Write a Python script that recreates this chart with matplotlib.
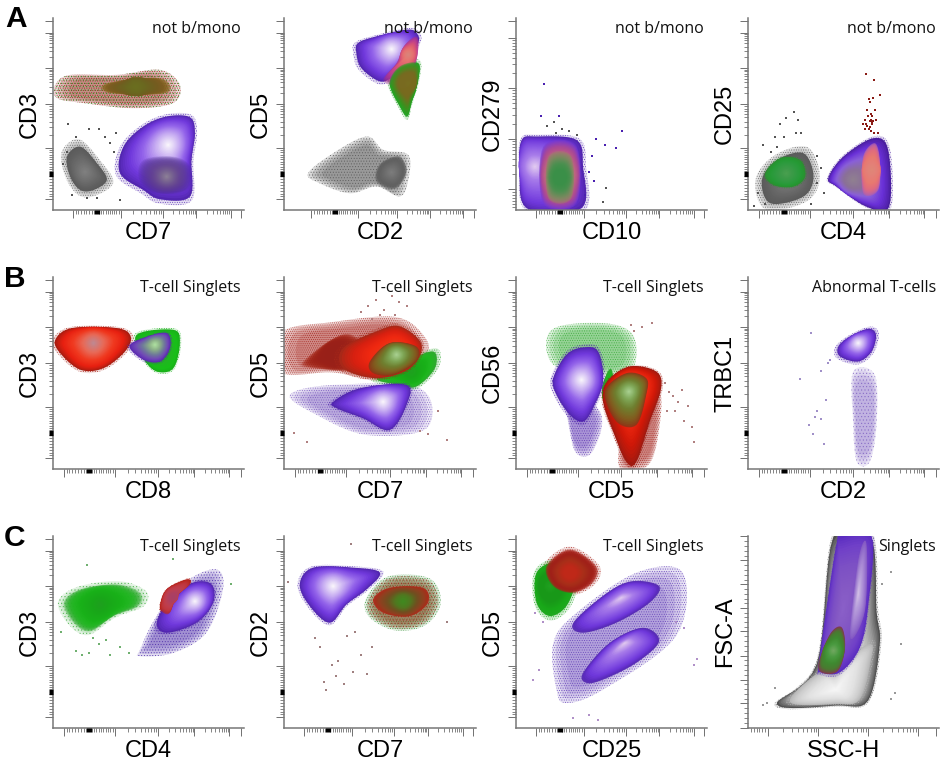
import numpy as np
import matplotlib
matplotlib.use('Agg')
import matplotlib.pyplot as plt
from matplotlib.colors import to_rgb
from matplotlib.patches import Polygon

# Everything below is in axis units, 0-100 along each plot axis
# Tick places: negative, zero, then the decades, then the end of the scale
ticks_a = [10.4, 23.0, 35.5, 57.5, 75.0, 93.0, 98.6]
ticks_a2 = [14.3, 26.4, 38.6, 58.6, 76.0, 93.4, 98.8]
ticks_b = [5.6, 19.0, 32.4, 55.0, 74.0, 92.4, 98.6]
ticks_cd279 = [10.8, 36.9, 63.5, 89.6, 98.6]
ticks_ssc = [10.4, 36.9, 63.0, 89.0, 98.3]
ticks_fsc = [0, 12.9, 25.2, 37.7, 50.3, 62.4, 74.8, 87.3, 99.8]

# Colour ramps, outer edge of a population to its centre
purple = ['#5226b0', '#7038dc', '#9464ea', '#c8aef2', '#f8f4fb']
purple_dim = ['#5226b0', '#7038dc', '#8a58e4', '#a87cea', '#e0c8f0']
purple_grey = ['#4a2a90', '#5a3a90', '#6a4a90', '#807090', '#a09aa0']
purple_c4 = ['#5a2cc0', '#7040c8', '#7c50c4', '#8458c4', '#8a60c8']
lavender = ['#8458c4', '#9470cc', '#a888d4', '#b8a0dc', '#d4c0e6']
red = ['#a81c10', '#e82010', '#f03a20', '#e86a58', '#c08890']
pink = ['#a83088', '#c04090', '#e05a70', '#e87870', '#d88a80']
green = ['#30a830', '#20b820', '#18b018', '#18a818', '#20a020']
green_lo = ['#2a9030', '#259a35', '#2f9a40', '#3c9a48', '#4aa050']
olive = ['#8a3818', '#806020', '#6f8030', '#80a858', '#a8d090']
mixed = ['#b02818', '#904020', '#705020', '#4f7a20', '#408a20']
grey = ['#5a5a5a', '#606060', '#6a6a6a', '#757575', '#808080']
pale = ['#505050', '#9a9a9a', '#cfcfcf', '#e6e6e6', '#f4f4f4']
inner_b1 = ['#5a28b0', '#7048b8', '#6f7a9a', '#8cb088', '#aee0a0']

# Plot A1, CD7 against CD3
a1_band = [(1.2, 65.2), (9, 70.4), (33.4, 70.4), (56, 73), (66.4, 65.2), (62.9, 55.7), (42, 53), (16, 55.7), (2.1, 58.3)]
a1_band_mid = [(28, 66), (56, 68.7), (59.5, 60.9), (29.7, 60.9)]
a1_purple = [(36.9, 33), (47.3, 43.5), (59.5, 48.7), (71.7, 48.3), (74.3, 40), (72.5, 26), (71.7, 7), (56, 5.6), (47.3, 10.4), (35.1, 19.1)]
a1_shade = [(47.3, 26), (63, 27.8), (71.7, 22.6), (70, 10.4), (54.3, 8.7), (45.2, 15.7)]
a1_grey = [(7.3, 27.8), (14.3, 33), (23, 24.3), (28.2, 15.7), (21.2, 10.4), (14.3, 10.4), (9, 17.4)]
a1_far_x = [8, 7.5, 12, 19, 24, 27, 30, 33, 5, 10, 18, 23, 32, 35]
a1_far_y = [45, 30, 38, 42, 42, 38, 35, 40, 24, 8, 6, 6, 30, 5]

# Plot A2, CD2 against CD5
a2_grey = [(12.5, 19.1), (25.6, 29.6), (43, 38.3), (51.7, 31.3), (64.7, 28.7), (64.7, 15.7), (60.3, 7), (48.2, 12.2), (34.3, 8.7), (18.6, 13.9)]
a2_purple = [(38.6, 87), (48.2, 90.4), (63.8, 93.9), (69, 92.2), (69.9, 87), (63, 76.5), (56.9, 69.6), (49.9, 67), (40.3, 73.9), (37.7, 81.7)]
a2_wedge = [(63, 86), (69, 90.4), (69.9, 83.5), (65.6, 66), (58.6, 64.3), (51.7, 67.8), (58.6, 76.5)]
a2_tail = [(60.3, 74.8), (69.9, 76.5), (69.9, 67.8), (66.4, 55.7), (64.2, 48.7), (60.3, 53.9), (55, 66)]

# Plot A3, CD10 against CD279
a3_purple = [(3, 36.5), (10.8, 38.3), (31.7, 36.5), (35.1, 22.6), (34.3, 0.9), (5.6, 0.9), (2.1, 22.6)]
a3_pink = [(14.3, 33), (31.7, 33), (31.7, 3.5), (14.3, 3.5)]
a3_green = [(17, 28), (29, 28), (29, 6), (17, 6)]
a3_far_x = [14.6, 12.9, 22.6, 55.7, 42, 46.4, 52.5, 40, 38, 41, 36]
a3_far_y = [65.7, 49, 48.7, 41.4, 37, 33.9, 32.2, 28, 20, 15, 8]
a3_far_grey_x = [47.3, 45.6, 24, 20, 28, 32, 16, 21]
a3_far_grey_y = [11.7, 4.3, 42, 46, 41, 39, 44, 40]

# Plot A4, CD4 against CD25
a4_grey = [(7.3, 15.7), (15.1, 26), (29, 29.6), (34.3, 17.4), (29, 7), (11.7, 3.5)]
a4_green = [(9, 19), (16.9, 27), (27.3, 26), (29.9, 17.4), (23.8, 12.2), (13.4, 13)]
a4_purple = [(42, 16.5), (49.9, 27.8), (65.6, 37.4), (73.4, 31.3), (73.9, 1.7), (62.1, 1.7), (46.4, 12.2)]
a4_pink = [(60.3, 27.8), (66.4, 34.8), (69, 26), (68.2, 10.4), (60.3, 8.7)]
a4_tail_x = [62, 66, 63.5, 65.5, 64, 62.5, 66.5, 64.5, 63, 65, 67, 61, 60, 62, 65, 64, 63.5, 64.5, 66, 68, 69, 62.5, 61.5, 64.7, 63.8, 65.2, 64.2]
a4_tail_y = [71, 67.5, 58, 58.5, 56, 52, 52, 50, 49, 49, 47, 47, 45, 45, 45, 43, 42, 41, 40, 40, 60, 44, 42, 46, 46.5, 46.2, 47]
a4_far_x = [24, 20, 17, 26, 25, 14, 19, 28, 15, 12, 8, 36, 38, 5, 9, 3, 33, 36, 40]
a4_far_y = [51, 48, 45, 47, 40, 38, 38, 40, 33, 30, 34, 28, 22, 9, 3, 2, 3, 14, 9]

# Plot B1, CD8 against CD3
b1_red = [(1.2, 67.3), (9.9, 73.4), (33.4, 73.4), (40.7, 69), (37.7, 61.2), (26.4, 52.5), (14.3, 51.7), (3.8, 60.3)]
b1_green = [(43.8, 69.9), (63, 72.5), (66.4, 65.6), (63, 52.5), (54.3, 50.8), (47.3, 57.7)]
b1_inner = [(40, 63.8), (47.3, 68.2), (59.5, 70.8), (61.2, 63), (56, 56), (47.3, 56.9)]

# Plot B2, CD7 against CD5
b2_wide = [(0.3, 70.8), (25.6, 76), (56.9, 78.6), (70.8, 70), (72.5, 59.5), (51.6, 47.3), (25.6, 50.8), (0.3, 50.8)]
b2_red = [(30.8, 63), (48.2, 71.7), (60.3, 74.3), (71.7, 64.7), (65.6, 52.5), (48.2, 47.3), (30.8, 52.5)]
b2_green = [(48.2, 47.3), (63.8, 56), (77.7, 61.2), (78.6, 52.5), (69, 43), (60.3, 43.8)]
b2_olive = [(44.7, 56), (55, 65.6), (69, 63.8), (69, 56), (56.9, 49), (46.4, 49.9)]
b2_purple = [(25.6, 35), (39.5, 42), (63.8, 43.8), (63.8, 33.4), (55, 20.3), (41.2, 26.4), (27.3, 31.7)]
b2_fringe = [(3, 38.6), (25.6, 43.8), (70.8, 42), (74.3, 21.2), (43, 17.7), (16.9, 28.2)]
b2_far_x = [40, 44, 48, 52, 56, 60, 64, 58, 50, 46, 75, 71, 12, 5, 80, 85]
b2_far_y = [82, 85, 88, 83, 90, 87, 85, 80, 80, 78, 18, 20, 14, 19, 30, 15]

# Plot B3, CD5 against CD56
b3_green = [(18.6, 72.5), (45.6, 76), (61.2, 69.9), (61.2, 52.5), (45.6, 49), (19.5, 54.3)]
b3_purple = [(19.5, 47.3), (26.4, 59.5), (35.1, 63.3), (43, 61.2), (45.6, 45.6), (40.3, 31.7), (35.1, 24.7), (28.2, 28.2), (21.2, 38.6)]
b3_fringe = [(19, 48), (26, 30), (31, 9), (40, 9), (44, 30)]
b3_red = [(47.7, 45.6), (59.5, 53.4), (73.4, 50.8), (76, 42), (70, 24.7), (63, 3.8), (57.7, 3.8), (50.8, 19.5), (45.6, 35)]
b3_olive = [(46.4, 40.3), (57.7, 49.9), (68.2, 47.3), (68.2, 38.6), (63, 22.9), (52.5, 24.7)]
b3_red_tail = [(58, 25), (75, 40), (74, 15), (68, 1), (54, 1)]
b3_far_x = [78, 80, 82, 85, 87, 90, 83, 88, 79, 92, 62, 66, 60, 71, 93]
b3_far_y = [45, 40, 38, 35, 41, 33, 30, 25, 30, 22, 72, 74, 75, 76, 14]

# Plot B4, CD2 against TRBC1
b4_purple = [(47.3, 63.8), (53.4, 69), (63, 73), (67, 69.9), (64.7, 61.2), (57.7, 56), (48.2, 58.6)]
b4_tail = [(55, 50.6), (66.4, 49), (67.3, 22.9), (63.8, 3.8), (56.9, 3.8), (55, 24.7)]
b4_far_x = [33, 27, 36, 38, 35, 32, 34, 40, 41, 43, 42, 38]
b4_far_y = [71, 47, 30, 26, 27, 23, 18, 13, 36, 57, 55, 51]

# Plot C1, CD4 against CD3
c1_green = [(5.6, 65.2), (14.3, 72.2), (33.4, 74.8), (45.6, 70.4), (44.7, 63.5), (31.7, 58.3), (19.5, 50.4), (10.8, 54.8)]
c1_fringe = [(45.6, 40.9), (54.3, 58.3), (70, 76.5), (85.6, 82.6), (89, 72.2), (80.3, 49.6), (63, 39.1), (45.6, 37.4)]
c1_purple = [(54.3, 54.8), (61.2, 67), (73.4, 75.7), (83, 74.8), (83.8, 65.2), (75, 54.8), (59.5, 49.6)]
c1_red = [(56, 63.5), (59.5, 72.2), (70, 77.4), (71.7, 74.8), (64.7, 68.7), (61.2, 60), (57.7, 60)]
c1_far_x = [12, 15, 19, 24, 30, 35, 40, 18, 4, 21, 93, 63, 28]
c1_far_y = [40, 38, 39, 44, 38, 42, 39, 85, 50, 47, 75, 88, 46]

# Plot C2, CD7 against CD2
c2_purple = [(8.2, 74.8), (15.1, 83.5), (36, 83.5), (50, 80.9), (43, 72.2), (32.5, 64.3), (23.8, 54.8), (13.4, 63.5)]
c2_wide = [(44.7, 67), (55, 77.4), (74.3, 76.5), (79.5, 65.2), (72.5, 54.8), (58.6, 52.2), (46.4, 58.3)]
c2_mixed = [(46.4, 67), (55, 73), (72.5, 73), (75, 65.2), (65.6, 58.3), (51.7, 60)]
c2_far_x = [21, 22, 27, 31, 36, 43, 28, 40, 19, 25, 33, 37, 46, 16, 35, 85, 2]
c2_far_y = [24, 20, 27, 23, 29, 28, 35, 38, 42, 33, 48, 50, 42, 47, 96, 55, 76]

# Plot C3, CD25 against CD5
c3_green = [(10.8, 80.9), (21.2, 86), (30, 75.7), (26.4, 63.5), (17.7, 58.3), (10.8, 65.2)]
c3_red = [(15.9, 84.3), (28.2, 93), (42, 84.3), (40.3, 75.7), (30, 70.4), (19.5, 73.9)]
c3_upper = [(30, 54.8), (47.7, 70.4), (61.2, 76.5), (75, 73.9), (69.9, 65.2), (52.5, 54.8), (35.1, 49.6)]
c3_lower = [(35.1, 28.7), (49, 44.3), (66.4, 52.2), (75, 45.2), (63, 33.9), (45.6, 25.2), (36.9, 23.5)]
c3_fringe = [(21.2, 20), (19.5, 44.3), (31.7, 60), (63, 80.9), (87.3, 80.9), (83.8, 47.8), (45.6, 20), (26.4, 13)]
c3_far_x = [10, 14, 38, 43, 93, 95, 12, 9, 84, 88, 30]
c3_far_y = [60, 55, 7, 4, 33, 36, 30, 25, 55, 52, 5]

# Plot C4, SSC-H against FSC-A
c4_grey = [(15.1, 12.2), (36, 33.4), (44.7, 99.6), (64.3, 99.6), (67.3, 60.9), (69, 43.8), (62.9, 14.3), (46.4, 11.7)]
c4_body = [(22, 13.5), (36.5, 28.5), (46, 28.5), (57, 40), (64.5, 43.5), (64.5, 36.5), (58.5, 15), (46, 12.5)]
c4_purple = [(36.9, 31.7), (41.2, 63), (46.4, 96), (49, 100), (64.7, 100), (63, 64.3), (58.6, 42), (48.2, 29), (37.7, 29)]
c4_band = [(53.4, 47.3), (57.7, 87.3), (62, 96), (61.2, 61)]
c4_green = [(36.9, 33.4), (43, 49), (49, 52.5), (50.8, 42), (47.3, 29.9), (39.5, 28.5)]
c4_far_x = [75, 70, 80, 14, 10, 75, 77, 8]
c4_far_y = [81, 75, 44, 21, 13, 15, 18, 12]

# gate, x label, y label, x ticks, y ticks
panels_a = [
    ('not b/mono', 'CD7', 'CD3', ticks_a, ticks_b),
    ('not b/mono', 'CD2', 'CD5', ticks_a2, ticks_b),
    ('not b/mono', 'CD10', 'CD279', ticks_a, ticks_cd279),
    ('not b/mono', 'CD4', 'CD25', ticks_b, ticks_b),
]
panels_b = [
    ('T-cell Singlets', 'CD8', 'CD3', ticks_b, ticks_b),
    ('T-cell Singlets', 'CD7', 'CD5', ticks_b, ticks_b),
    ('T-cell Singlets', 'CD5', 'CD56', ticks_b, ticks_b),
    ('Abnormal T-cells', 'CD2', 'TRBC1', ticks_b, ticks_b),
]
panels_c = [
    ('T-cell Singlets', 'CD4', 'CD3', ticks_b, ticks_b),
    ('T-cell Singlets', 'CD7', 'CD2', ticks_a, ticks_b),
    ('T-cell Singlets', 'CD25', 'CD5', ticks_a, ticks_b),
    ('Singlets', 'SSC-H', 'FSC-A', ticks_ssc, ticks_fsc),
]

W, H = 944, 764
plt.rcParams['font.family'] = ['Liberation Sans', 'DejaVu Sans']
plt.rcParams['hatch.linewidth'] = 0.4
fig = plt.figure(figsize=(W / 100, H / 100), dpi=100)


def smooth(points):
    # closed Catmull-Rom curve, it goes through the points
    p = np.array(points, dtype=float)
    out = []
    for i in range(len(p)):
        p0, p1, p2, p3 = p[i - 1], p[i], p[(i + 1) % len(p)], p[(i + 2) % len(p)]
        for t in np.linspace(0, 1, 8, endpoint=False):
            out.append(0.5 * (2 * p1 + (p2 - p0) * t + (2 * p0 - 5 * p1 + 4 * p2 - p3) * t ** 2
                              + (3 * p1 - p0 - 3 * p2 + p3) * t ** 3))
    return np.array(out)


def ramp_colour(ramp, t):
    rgb = np.array([to_rgb(c) for c in ramp])
    pos = t * (len(ramp) - 1)
    i = min(int(pos), len(ramp) - 2)
    return rgb[i] + (pos - i) * (rgb[i + 1] - rgb[i])


def blob(ax, outline, ramp, alpha=1.0, fringe=1.09, layers=30, core=None, rounder=True):
    pts = smooth(outline)
    mid = pts.mean(axis=0) if core is None else np.array(core, dtype=float)
    if fringe:
        grain(ax, outline, ramp[0], scale=fringe, centre=mid, tint=0.35)
    rel = pts - mid
    # inner layers go rounder, a density peak has no corners
    dist = np.hypot(rel[:, 0], rel[:, 1])
    ring = rel / dist[:, None] * np.median(dist)
    for k in range(layers):
        t = k / (layers - 1)
        s = 1 - 0.97 * t
        shape = (1 - t) * rel + t * ring if rounder else rel
        ax.add_patch(Polygon(mid + s * shape, closed=True, fc=ramp_colour(ramp, t ** 0.8),
                             ec='none', alpha=alpha, zorder=2))


def grain(ax, outline, colour, scale=1.0, centre=None, hatch='.......', alpha=0.8, tint=0.2):
    # pale washes with a dot hatch on them stand in for the thin outer events
    pts = smooth(outline)
    mid = pts.mean(axis=0) if centre is None else centre
    for s in [1.0, 0.93, 0.85, 0.75]:
        ax.add_patch(Polygon(mid + s * scale * (pts - mid), closed=True, fc=colour, ec='none',
                             alpha=tint / 2.5, zorder=2))
    if hatch:
        ax.add_patch(Polygon(mid + scale * (pts - mid), closed=True, fill=False, hatch=hatch, ec=colour,
                             lw=0, alpha=alpha, zorder=2))


def dots(ax, xs, ys, colour, size=2.5):
    ax.scatter(xs, ys, s=size, c=colour, marker='s', linewidths=0, zorder=3)


def set_ticks(ax, axis, places):
    if len(places) == 7:
        lin = list(np.linspace(places[0], places[1], 10)[1:-1]) + list(np.linspace(places[1], places[2], 12)[1:-1])
        decades = places[2:6]
        majors = [places[0], places[2], places[3], places[4], places[5], places[6]]
    elif len(places) == 9:
        lin = []
        for p, q in zip(places[:-1], places[1:]):
            lin += list(np.linspace(p, q, 6)[1:-1])
        decades = []
        majors = places
    else:
        lin = list(np.linspace(0, places[0], 8)[1:-1])
        decades = places[:4]
        majors = places
    minors = list(lin)
    for p, q in zip(decades[:-1], decades[1:]):
        minors += [p + np.log10(k) * (q - p) for k in range(2, 10)]
    if axis == 'x':
        ax.set_xticks(majors)
        ax.set_xticks(minors, minor=True)
    else:
        ax.set_yticks(majors)
        ax.set_yticks(minors, minor=True)
    if len(places) == 7:
        if axis == 'x':
            ax.plot([places[1]], [0], marker=3, ms=3.2, mew=3.8, color='k', clip_on=False, zorder=5)
        else:
            ax.plot([0], [places[1]], marker=0, ms=3.2, mew=3.8, color='k', clip_on=False, zorder=5)


def make_axes(left, right, top, bottom, spec):
    gate, xname, yname, xt, yt = spec
    ax = fig.add_axes([left / W, 1 - bottom / H, (right - left) / W, (bottom - top) / H])
    for side in ['top', 'right']:
        ax.spines[side].set_visible(False)
    for side in ['left', 'bottom']:
        ax.spines[side].set_color('#777777')
        ax.spines[side].set_linewidth(1.1)
    set_ticks(ax, 'x', xt)
    set_ticks(ax, 'y', yt)
    ax.set_xlim(0, 100)
    ax.set_ylim(0, 100)
    ax.tick_params(which='major', length=5.5, width=0.7, color='#707070', labelbottom=False, labelleft=False)
    ax.tick_params(which='minor', length=3, width=0.6, color='#707070')
    ax.set_xlabel(xname, fontsize=17)
    ax.set_ylabel(yname, fontsize=17)
    ax.xaxis.set_label_coords(0.5, -23 / (bottom - top), transform=ax.transAxes)
    ax.yaxis.set_label_coords(-23 / (right - left), 0.5, transform=ax.transAxes)
    ax.xaxis.label.set_verticalalignment('center')
    ax.yaxis.label.set_verticalalignment('center')
    ax.text(1 - 3 / (right - left), 1 - 11 / (bottom - top), gate, transform=ax.transAxes, ha='right', va='center',
            fontsize=11.5, color='#111111', family=['Open Sans', 'DejaVu Sans'], zorder=6)
    return ax


lefts = [(53, 244), (284, 476), (516, 707), (748, 939)]
rows = [(18, 210, panels_a), (277, 469, panels_b), (536, 728, panels_c)]
axes = []
for top, bottom, specs in rows:
    for (l, r), spec in zip(lefts, specs):
        axes.append(make_axes(l, r, top, bottom, spec))

# Row A
ax = axes[0]
grain(ax, a1_band, '#a01010', tint=0.35)
grain(ax, a1_band, '#109010', hatch='.....', alpha=0.7, tint=0.05)
blob(ax, a1_band_mid, ['#8a6a20', '#7a5a20', '#70601f', '#6a6a20', '#6a7020'], alpha=0.45, fringe=0)
blob(ax, a1_grey, grey, fringe=1.3)
blob(ax, a1_purple, purple, core=(60.3, 33.9), fringe=1.08)
blob(ax, a1_shade, purple_grey, alpha=0.16, fringe=0, core=(59.5, 17.4))
dots(ax, a1_far_x, a1_far_y, '#555555')

ax = axes[1]
grain(ax, a2_grey, '#555555', hatch='......', tint=0.5)
blob(ax, [(50, 24), (60, 28), (64, 20), (58, 11), (48, 15)], grey, fringe=0, alpha=0.35)
blob(ax, a2_tail, green, fringe=1.12)
blob(ax, a2_purple, purple, core=(56, 83.8))
blob(ax, a2_wedge, pink, alpha=0.35, fringe=0, core=(64.7, 80.9))
blob(ax, a2_tail, ['#20a020', '#4a8a20', '#7a6a20', '#7a6a20', '#7a7020'], alpha=0.45, fringe=0, core=(64.7, 66))

ax = axes[2]
blob(ax, a3_purple, purple_dim, core=(9.9, 22.6), fringe=1.06)
blob(ax, a3_pink, ['#7a3ad0', '#b04a90', '#c06a80', '#b07a70', '#a07a70'], alpha=0.5, fringe=0)
blob(ax, a3_green, ['#a07a70', '#7a8a60', '#4a9050', '#3a9048', '#3a9048'], alpha=0.5, fringe=0)
dots(ax, a3_far_x, a3_far_y, '#4a20b0')
dots(ax, a3_far_grey_x, a3_far_grey_y, '#555555')

ax = axes[3]
blob(ax, a4_grey, grey, fringe=1.25)
blob(ax, a4_green, green_lo, fringe=1.08)
blob(ax, a4_purple, ['#4a1ea0', '#6a30d8', '#8a60d8', '#8a7098', '#908090'], fringe=1.05, core=(55, 15.7))
blob(ax, a4_pink, ['#b060b0', '#e06a80', '#e87a70', '#e48078', '#e08878'], alpha=0.75, fringe=0, core=(64.7, 20.9))
dots(ax, a4_tail_x, a4_tail_y, '#8a1a14')
dots(ax, a4_far_x, a4_far_y, '#555555')

# Row B
ax = axes[4]
blob(ax, b1_red, red, core=(21.2, 65.6), fringe=1.07)
blob(ax, b1_green, ['#18b018', '#18c018', '#20b820', '#20b020', '#20b020'], fringe=1.07)
blob(ax, b1_inner, inner_b1, core=(53.4, 64.7), fringe=1.1)

ax = axes[5]
grain(ax, b2_wide, '#a01810', hatch='........', scale=1.04, tint=0.4)
grain(ax, b2_fringe, '#5a30b0', hatch='.......', alpha=0.6, tint=0.3)
blob(ax, b2_green, green, fringe=1.16)
blob(ax, [(12, 58), (30, 70), (40, 66), (40, 52), (12, 53)], ['#a82818', '#a02418', '#9a2018', '#982018', '#9a2018'], alpha=0.3, fringe=0)
blob(ax, b2_red, ['#a82818', '#d82010', '#f02810', '#e83a18', '#d85018'], core=(57.7, 60.3))
blob(ax, b2_olive, olive, core=(58.6, 59.5), fringe=0, alpha=0.9)
blob(ax, b2_purple, purple, core=(51.6, 35), fringe=1.07)
dots(ax, b2_far_x, b2_far_y, '#b08080', size=1.2)

ax = axes[6]
grain(ax, b3_green, '#30a830', hatch='.......', tint=0.4)
blob(ax, [(45, 42), (50, 52), (52, 30), (48, 30)], green, fringe=0)
grain(ax, b3_fringe, '#5a30b0', hatch='.......', tint=0.4)
blob(ax, b3_purple, purple, core=(34.3, 46.4))
grain(ax, b3_red_tail, '#a01810', hatch='........', tint=0.4)
blob(ax, b3_red, ['#a01a10', '#d01808', '#f02810', '#e84020', '#d05828'], core=(59.5, 42), fringe=1.05)
blob(ax, b3_olive, olive, core=(59.1, 40.3), fringe=0, alpha=0.9)
dots(ax, b3_far_x, b3_far_y, '#b08080', size=1.2)

ax = axes[7]
grain(ax, b4_tail, '#6a48b8', hatch='.....', alpha=0.6, tint=0.3)
blob(ax, b4_purple, purple, core=(57.7, 65.6), fringe=1.16)
dots(ax, b4_far_x, b4_far_y, '#a090c8', size=1.2)

# Row C
ax = axes[8]
grain(ax, c1_green, '#40b040', hatch='.....', scale=1.15, tint=0.35)
blob(ax, c1_green, green, fringe=0, alpha=0.4, core=(24.7, 64.3))
grain(ax, c1_fringe, '#4a28a8', hatch='......', tint=0.4)
blob(ax, c1_red, ['#b01810', '#c81810', '#d02010', '#c82010', '#c02010'], fringe=1.06)
blob(ax, c1_purple, purple, core=(74.3, 66), fringe=1.07)
blob(ax, c1_red, ['#b82820', '#c03840', '#c04050', '#b04060', '#a84068'], alpha=0.5, fringe=0)
dots(ax, c1_far_x, c1_far_y, '#70b070', size=1.2)

ax = axes[9]
grain(ax, c2_wide, '#309030', hatch='.......', scale=1.12, tint=0.35)
grain(ax, c2_wide, '#a03020', hatch='.....', scale=1.05, tint=0.35)
blob(ax, c2_mixed, mixed, core=(62, 66), fringe=0, alpha=0.85)
blob(ax, c2_purple, purple, core=(25.6, 73.9), fringe=1.07)
dots(ax, c2_far_x, c2_far_y, '#a08080', size=1.5)

ax = axes[10]
grain(ax, c3_fringe, '#5a34b4', hatch='.......', tint=0.35)
blob(ax, c3_upper, purple_dim, core=(55, 67.8), fringe=0, alpha=0.9, rounder=False)
blob(ax, c3_lower, purple_dim, core=(56.9, 44.3), fringe=0, alpha=0.9, rounder=False)
grain(ax, c3_red, '#a82018', hatch='.......', scale=1.12, tint=0.3)
blob(ax, c3_green, ['#20a820', '#18a818', '#189818', '#189818', '#20a020'], core=(17.7, 73.9), fringe=1.15)
blob(ax, c3_red, ['#a82018', '#a02018', '#a83018', '#c02818', '#c02818'], core=(28.2, 80.9), fringe=0, alpha=0.5)
dots(ax, c3_far_x, c3_far_y, '#b090c8', size=1.2)

ax = axes[11]
blob(ax, c4_grey, pale, core=(48, 25), fringe=1.04, rounder=False)
blob(ax, c4_body, ['#b8b8b8', '#d0d0d0', '#e2e2e2', '#ececec', '#f6f6f6'], core=(46, 20), rounder=False)
blob(ax, c4_purple, purple_c4, fringe=1.04, rounder=False)
blob(ax, c4_band, lavender, core=(57.7, 70), fringe=0, rounder=False)
blob(ax, c4_green, ['#803a50', '#4a7a30', '#3f8a30', '#4a9a40', '#70a860'], core=(44.7, 40.3), fringe=0)
dots(ax, c4_far_x, c4_far_y, '#999999', size=1.2)

# Panel letters
for letter, x, y in [('A', 5, 27), ('B', 4, 287), ('C', 4, 546)]:
    fig.text(x / W, 1 - y / H, letter, fontsize=21.5, fontweight='bold', ha='left', va='baseline')

fig.savefig('out.png', dpi=100)
